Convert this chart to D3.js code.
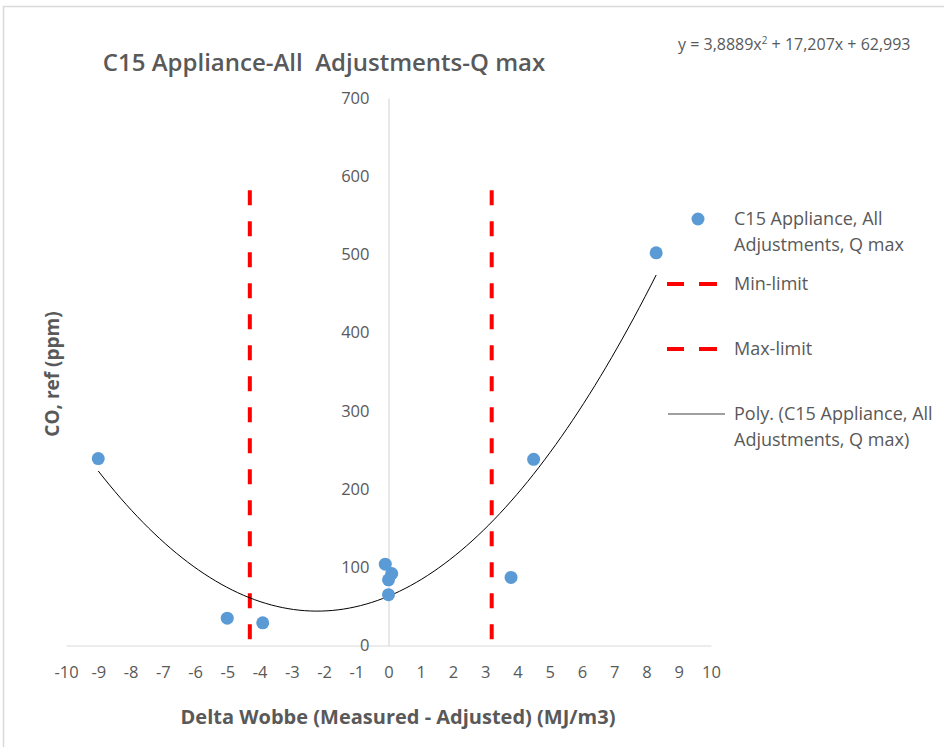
<!DOCTYPE html>
<html>
<head>
<meta charset="utf-8">
<script src="https://cdn.jsdelivr.net/npm/d3@7"></script>
<style>
  body { margin: 0; background: #fff; }
  text { font-family: 'Open Sans', sans-serif; fill: #595959; }
</style>
</head>
<body>
<div id="chart"></div>
<script>
// data
const deltaWobbe = [-9.0, -5.0, -3.9, -0.1, 0.1, 0.0, 0.0, 3.8, 4.5, 8.3];
const coRef = [239, 35, 29, 104, 92, 84, 65, 87, 238, 502];
const limitX = [-4.3, 3.2];      // min-limit, max-limit
const limitTop = 582;
const polyCoef = [3.8889, 17.207, 62.993];  // a, b, c from the trendline label
const xTicks = [-10,-9,-8,-7,-6,-5,-4,-3,-2,-1,0,1,2,3,4,5,6,7,8,9,10];
const yTicks = [0,100,200,300,400,500,600,700];
const legendLabels = [
  ['C15 Appliance, All', 'Adjustments, Q max'],
  ['Min-limit'],
  ['Max-limit'],
  ['Poly. (C15 Appliance, All', 'Adjustments, Q max)']
];

const w = 944, h = 747;
const blue = '#5B9BD5', red = '#FF0000', axisCol = '#D9D9D9';

const svg = d3.select('#chart').append('svg')
  .attr('width', w).attr('height', h);

// chart border (right/bottom edges fall outside the picture)
svg.append('rect')
  .attr('x', 3.5).attr('y', 6.5)
  .attr('width', 960).attr('height', 760)
  .attr('fill', 'none').attr('stroke', axisCol).attr('stroke-width', 1.5);

const xScale = d3.scaleLinear().domain([-10, 10]).range([66, 711]);
const yScale = d3.scaleLinear().domain([0, 700]).range([645.5, 98]);

// axes cross at 0,0
const xA = d3.axisBottom(xScale).tickValues(xTicks).tickSize(0).tickPadding(21).tickFormat(d => String(d));
const gx = svg.append('g')
  .attr('transform', 'translate(0,' + yScale(0) + ')')
  .call(xA);
gx.select('.domain').attr('stroke', axisCol).attr('stroke-width', 1.2);
gx.selectAll('text').style('font-size', '16.5px').attr('fill', '#595959').style('font-family', "'Open Sans', sans-serif");

const yA = d3.axisLeft(yScale).tickValues(yTicks).tickSize(0).tickPadding(19);
const gy = svg.append('g')
  .attr('transform', 'translate(' + xScale(0) + ',0)')
  .call(yA);
gy.select('.domain').attr('stroke', axisCol).attr('stroke-width', 1.2);
gy.selectAll('text').style('font-size', '16.5px').attr('fill', '#595959').style('font-family', "'Open Sans', sans-serif");

// limit lines
svg.selectAll('.limit')
  .data(limitX)
  .enter()
  .append('line')
  .attr('class', 'limit')
  .attr('x1', d => xScale(d)).attr('x2', d => xScale(d))
  .attr('y1', yScale(limitTop)).attr('y2', yScale(0))
  .attr('stroke', red).attr('stroke-width', 4)
  .attr('stroke-dasharray', '15,16');

// trendline over data range
const xMin = d3.min(deltaWobbe), xMax = d3.max(deltaWobbe);
const curvePts = d3.range(0, 101).map(i => {
  const x = xMin + (xMax - xMin) * i / 100;
  return [x, polyCoef[0]*x*x + polyCoef[1]*x + polyCoef[2]];
});
svg.append('path')
  .datum(curvePts)
  .attr('d', d3.line().x(d => xScale(d[0])).y(d => yScale(d[1])))
  .attr('fill', 'none').attr('stroke', '#000').attr('stroke-width', 1);

// points
svg.selectAll('.dot')
  .data(deltaWobbe.map((x, i) => [x, coRef[i]]))
  .enter()
  .append('circle')
  .attr('class', 'dot')
  .attr('cx', d => xScale(d[0])).attr('cy', d => yScale(d[1]))
  .attr('r', 6.5).attr('fill', blue);

// title + equation
svg.append('text')
  .attr('x', 324).attr('y', 71)
  .attr('text-anchor', 'middle')
  .style('font-size', '24px').style('font-weight', 600)
  .attr('xml:space', 'preserve')
  .text('C15 Appliance-All  Adjustments-Q max');

svg.append('text')
  .attr('x', 678).attr('y', 50)
  .style('font-size', '16px').attr('fill', '#404040')
  .html('y = 3,8889x<tspan dy="-6" font-size="10">2</tspan><tspan dy="6"> + 17,207x + 62,993</tspan>');

// axis titles
svg.append('text')
  .attr('x', 398).attr('y', 724)
  .attr('text-anchor', 'middle')
  .style('font-size', '20px').style('font-weight', 'bold')
  .text('Delta Wobbe (Measured - Adjusted) (MJ/m3)');

svg.append('text')
  .attr('transform', 'translate(59,374) rotate(-90)')
  .attr('text-anchor', 'middle')
  .style('font-size', '19px').style('font-weight', 'bold')
  .text('CO, ref (ppm)');

// legend
const legY = [219, 284, 349, 414];
const leg = svg.append('g');
leg.append('circle').attr('cx', 698).attr('cy', legY[0]).attr('r', 6.5).attr('fill', blue);
[1, 2].forEach(i => {
  leg.append('line')
    .attr('x1', 717).attr('x2', 667)
    .attr('y1', legY[i]).attr('y2', legY[i])
    .attr('stroke', red).attr('stroke-width', 4)
    .attr('stroke-dasharray', '18,15');
});
leg.append('line')
  .attr('x1', 668).attr('x2', 725)
  .attr('y1', legY[3]).attr('y2', legY[3])
  .attr('stroke', '#404040').attr('stroke-width', 1);

legendLabels.forEach((lines, i) => {
  lines.forEach((t, j) => {
    leg.append('text')
      .attr('x', 734).attr('y', legY[i] + j * 26)
      .attr('dy', '0.35em')
      .style('font-size', '18px')
      .text(t);
  });
});
</script>
</body>
</html>
